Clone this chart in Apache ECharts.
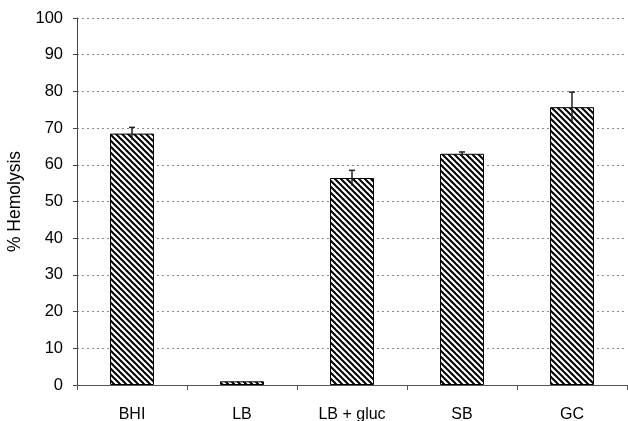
<!DOCTYPE html>
<html>
<head>
<meta charset="utf-8">
<script src="https://cdn.jsdelivr.net/npm/echarts@6/dist/echarts.min.js"></script>
<style>html,body{margin:0;padding:0;background:#fff}#c{width:628px;height:421px}</style>
</head>
<body>
<div id="c"></div>
<script>
var categories = ['BHI', 'LB', 'LB + gluc', 'SB', 'GC'];
var values = [68.5, 1.0, 56.4, 63.0, 75.7];
var errors = [1.7, 0, 2.1, 0.5, 4.1];
var yTicks = [0, 10, 20, 30, 40, 50, 60, 70, 80, 90, 100];

function makeHatch() {
  var s = 6;
  var cv = document.createElement('canvas');
  cv.width = s; cv.height = s;
  var g = cv.getContext('2d');
  g.fillStyle = '#fff';
  g.fillRect(0, 0, s, s);
  g.strokeStyle = '#000';
  g.lineWidth = 2;
  for (var k = -1; k <= 1; k++) {
    g.beginPath();
    g.moveTo(k * s - 1, -1);
    g.lineTo(k * s + s + 1, s + 1);
    g.stroke();
  }
  return cv;
}

var chart = echarts.init(document.getElementById('c'), null, {renderer: 'canvas'});
var errData = values.map(function (v, i) { return [i, v, errors[i]]; });

chart.setOption({
  animation: false,
  backgroundColor: '#fff',
  grid: {left: 77, right: 1, top: 18, bottom: 36, containLabel: false, outerBoundsMode: 'none'},
  xAxis: {
    type: 'category',
    data: categories,
    axisLine: {lineStyle: {color: '#555', width: 1}},
    axisTick: {show: true, length: 5, lineStyle: {color: '#555'}},
    axisLabel: {color: '#000', fontSize: 16, fontFamily: 'Liberation Sans, Arial, sans-serif', margin: 22}
  },
  yAxis: {
    type: 'value',
    min: yTicks[0],
    max: yTicks[yTicks.length - 1],
    interval: 10,
    name: '% Hemolysis',
    nameLocation: 'middle',
    nameGap: 52,
    nameTextStyle: {color: '#000', fontSize: 17.5, fontFamily: 'Liberation Sans, Arial, sans-serif'},
    axisLine: {show: true, lineStyle: {color: '#444', width: 1}},
    axisTick: {show: true, length: 4, lineStyle: {color: '#444'}},
    axisLabel: {color: '#000', fontSize: 16.5, fontFamily: 'Liberation Sans, Arial, sans-serif', margin: 14},
    splitLine: {show: true, lineStyle: {color: '#888', type: [2, 3], width: 1}}
  },
  series: [
    {
      type: 'bar',
      data: values,
      barWidth: '40%',
      itemStyle: {
        color: {image: makeHatch(), repeat: 'repeat'},
        borderColor: '#000',
        borderWidth: 1
      },
      z: 2
    },
    {
      type: 'custom',
      data: errData,
      z: 5,
      renderItem: function (params, api) {
        var i = api.value(0), v = api.value(1), e = api.value(2);
        if (!e) return null;
        var top = api.coord([i, v + e]);
        var bot = api.coord([i, v - e]);
        var hw = 3;
        return {
          type: 'group',
          children: [
            {type: 'line', shape: {x1: top[0], y1: top[1], x2: bot[0], y2: bot[1]}, style: {stroke: '#222', lineWidth: 1.5}},
            {type: 'line', shape: {x1: top[0] - hw, y1: top[1], x2: top[0] + hw, y2: top[1]}, style: {stroke: '#222', lineWidth: 1.5}}
          ]
        };
      }
    }
  ]
});
</script>
</body>
</html>
